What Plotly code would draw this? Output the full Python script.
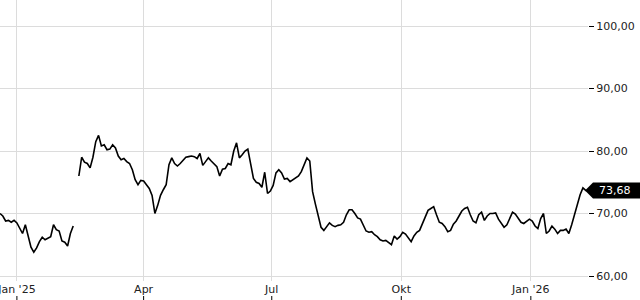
import pandas as pd
import plotly.graph_objects as go

start_date = "2024-12-20"
step = "2D"
prices = [
    70.0, 69.6, 68.8, 68.9, 68.6, 68.9, 68.5, 67.6, 66.8, 68.2,
    66.5, 64.6, 63.8, 64.5, 65.5, 66.2, 65.8, 66.0, 66.3, 68.2,
    67.4, 67.2, 65.6, 65.4, 64.8, 66.8, 68.0, None, 76.0, 79.0,
    78.2, 78.0, 77.3, 79.0, 81.5, 82.5, 80.8, 81.0, 80.2, 80.3,
    81.0, 80.5, 79.2, 78.6, 78.8, 78.3, 78.0, 77.0, 75.4, 74.6,
    75.3, 75.2, 74.6, 74.0, 72.9, 70.0, 71.3, 72.9, 73.8, 74.6,
    77.8, 78.9, 78.0, 77.6, 78.0, 78.6, 79.0, 79.1, 79.2, 79.1,
    78.8, 79.6, 77.7, 78.3, 78.9, 78.4, 77.9, 77.5, 76.0, 77.1,
    77.2, 78.0, 77.8, 80.0, 81.3, 78.9, 79.4, 80.0, 80.3, 78.0,
    75.6, 75.0, 74.8, 74.2, 76.6, 73.2, 73.6, 74.5, 76.5, 77.0,
    76.5, 75.5, 75.6, 75.1, 75.4, 75.6, 76.0, 76.7, 77.9, 78.9,
    78.4, 73.5, 71.5, 69.6, 67.8, 67.3, 68.0, 68.5, 68.1, 67.9,
    68.1, 68.2, 68.6, 69.8, 70.6, 70.6, 70.0, 69.3, 69.1, 68.0,
    67.2, 67.0, 67.1, 66.6, 66.3, 65.8, 65.6, 65.7, 65.3, 65.0,
    66.4, 65.9, 66.3, 67.0, 66.7, 66.0, 65.5, 66.4, 67.0, 67.3,
    68.3, 69.5, 70.5, 70.8, 71.1, 69.8, 68.6, 68.4, 67.9, 67.1,
    67.3, 68.3, 68.8, 69.6, 70.4, 70.8, 71.0, 69.8, 68.8, 68.5,
    69.8, 70.2, 68.9, 69.6, 70.0, 70.0, 70.1, 69.1, 68.5, 67.8,
    68.2, 69.3, 70.2, 69.9, 69.3, 68.6, 68.4, 68.8, 69.1, 68.8,
    68.0, 67.6, 69.2, 70.0, 66.8, 67.2, 68.0, 67.5, 66.8, 67.3,
    67.3, 67.5, 66.8, 68.2, 69.8, 71.2, 73.0, 74.1, 73.7, 73.68,
]
last_price = 73.68

tick_dates = ["2025-01-01", "2025-04-01", "2025-07-01", "2025-10-01", "2026-01-01"]
tick_labels = ["Jan '25", "Apr", "Jul", "Okt", "Jan '26"]
y_ticks = [60, 70, 80, 90, 100]

dates = pd.date_range(start_date, periods=len(prices), freq=step)

y_min, y_max = 59.2, 104.16
plot_h = 281
plot_w = 588
x_end = dates[0] + pd.Timedelta(days=417.6)

fig = go.Figure()
fig.add_trace(go.Scatter(
    x=dates, y=prices, mode="lines",
    line=dict(color="#000000", width=1.6),
    connectgaps=False, hoverinfo="skip", showlegend=False,
))

half = 8 * (y_max - y_min) / plot_h
tip = 585 / plot_w
shoulder = 593 / plot_w
right = 640 / plot_w
fig.add_shape(
    type="path", xref="paper", yref="y",
    path=(f"M {tip},{last_price} L {shoulder},{last_price + half} "
          f"L {right},{last_price + half} L {right},{last_price - half} "
          f"L {shoulder},{last_price - half} Z"),
    fillcolor="#000000", line=dict(width=0), layer="above",
)
fig.add_annotation(
    xref="paper", yref="y", x=597 / plot_w, y=last_price,
    xanchor="left", yanchor="middle", showarrow=False,
    text=f"{last_price:.2f}".replace(".", ","),
    font=dict(color="#ffffff", size=11, family="DejaVu Sans"),
)

# small tick marks under the month labels
for d in tick_dates:
    fig.add_shape(type="line", xref="x", yref="paper", x0=d, x1=d,
                  y0=-15 / plot_h, y1=-19 / plot_h,
                  line=dict(color="#000000", width=1))

fig.update_layout(
    width=640, height=300,
    margin=dict(l=0, r=640 - plot_w, t=0, b=300 - plot_h, autoexpand=False),
    paper_bgcolor="#ffffff", plot_bgcolor="#ffffff",
    separators=",.",
    font=dict(family="DejaVu Sans", size=11, color="#222222"),
    xaxis=dict(
        range=[dates[0], x_end], tickvals=tick_dates, ticktext=tick_labels,
        ticklabeloverflow="allow", automargin=False,
        showgrid=True, gridcolor="#dcdcdc", gridwidth=1,
        zeroline=False, showline=False, ticks="",
    ),
    yaxis=dict(
        side="right", range=[y_min, y_max], tickvals=y_ticks, tickformat=".2f",
        automargin=False,
        showgrid=True, gridcolor="#dcdcdc", gridwidth=1,
        zeroline=False, showline=False,
        ticks="outside", ticklen=5, tickcolor="#000000", tickwidth=1,
    ),
)

fig.write_html("out.html")
